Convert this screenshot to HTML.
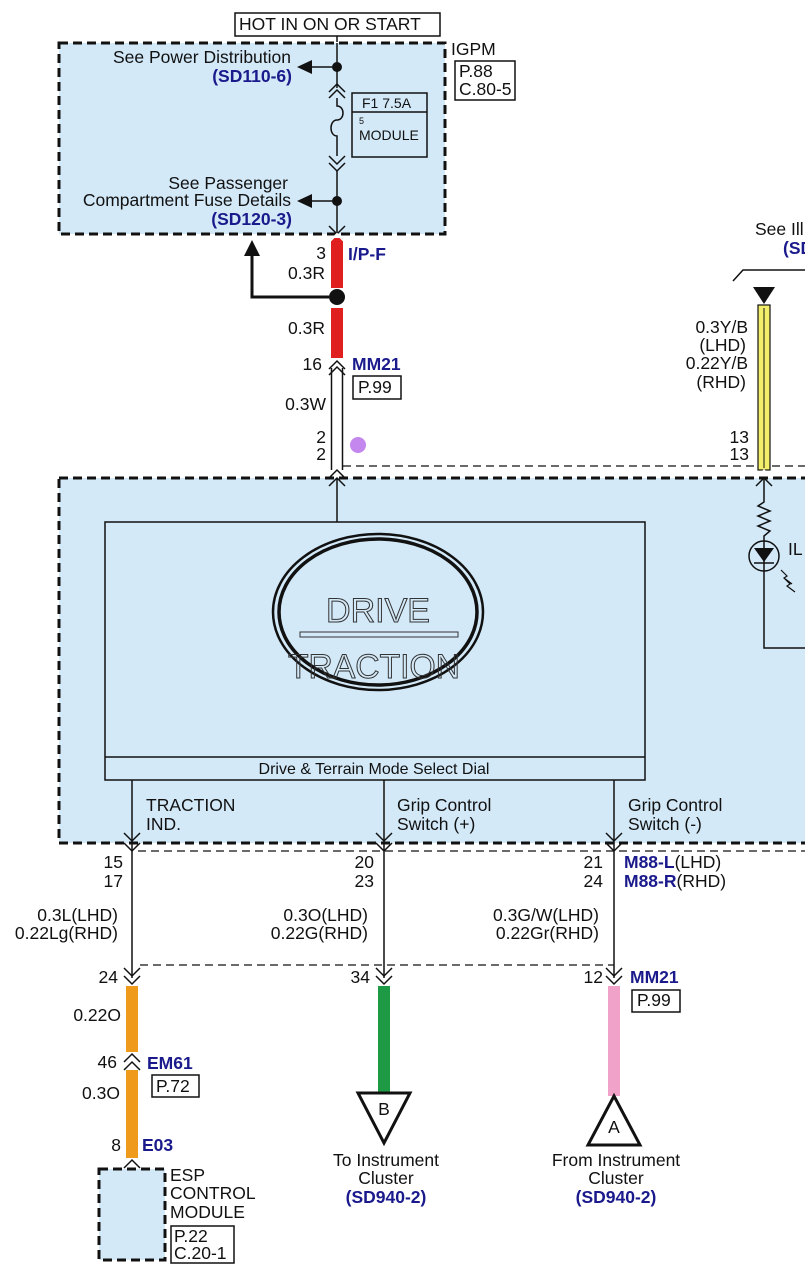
<!DOCTYPE html>
<html><head><meta charset="utf-8"><style>
html,body{margin:0;padding:0;background:#fff;}
svg{display:block;}
text{font-family:"Liberation Sans",sans-serif;font-size:17.5px;fill:#111;}
.b{fill:#1a1a8c;font-weight:bold;}
.r{text-anchor:end;}
.m{text-anchor:middle;}
</style></head><body>
<svg width="805" height="1280" viewBox="0 0 805 1280" xmlns="http://www.w3.org/2000/svg">
<rect x="235" y="13" width="205" height="23" fill="#fff" stroke="#111" stroke-width="1.5"/>
<text x="239" y="30">HOT IN ON OR START</text>
<line x1="337" y1="36" x2="337" y2="42" stroke="#111" stroke-width="1.5"/>
<rect x="59" y="43" width="386" height="191" fill="#d3e9f8" stroke="#111" stroke-width="3" stroke-dasharray="9,5"/>
<text x="451" y="55">IGPM</text>
<rect x="455" y="61" width="60" height="39" fill="#fff" stroke="#111" stroke-width="1.5"/>
<text x="459" y="77">P.88</text><text x="459" y="95">C.80-5</text>
<line x1="337" y1="43" x2="337" y2="88" stroke="#111" stroke-width="1.5"/>
<circle cx="337" cy="67" r="5" fill="#111"/>
<line x1="337" y1="67" x2="310" y2="67" stroke="#111" stroke-width="1.5"/>
<polygon points="297,67 312,60 312,74" fill="#111"/>
<text class="r" x="291" y="63">See Power Distribution</text>
<text class="r b" x="292" y="82">(SD110-6)</text>
<polyline points="329,92 337,84 345,92" fill="none" stroke="#111" stroke-width="1.5"/>
<polyline points="329,98 337,90 345,98" fill="none" stroke="#111" stroke-width="1.5"/>
<path d="M337,98 v8 c8,0 8,14 0,14 c-8,0 -8,16 0,16 v20" fill="none" stroke="#111" stroke-width="1.5"/>
<polyline points="329,156 337,164 345,156" fill="none" stroke="#111" stroke-width="1.5"/>
<polyline points="329,163 337,171 345,163" fill="none" stroke="#111" stroke-width="1.5"/>
<line x1="337" y1="171" x2="337" y2="234" stroke="#111" stroke-width="1.5"/>
<rect x="352" y="93" width="75" height="64" fill="#d3e9f8" stroke="#111" stroke-width="1.5"/>
<line x1="352" y1="112" x2="427" y2="112" stroke="#111" stroke-width="1.5"/>
<text x="362" y="108" style="font-size:14px">F1 7.5A</text>
<text x="359" y="124" style="font-size:9px">5</text>
<text x="359" y="140" style="font-size:14px">MODULE</text>
<circle cx="337" cy="201" r="5" fill="#111"/>
<line x1="337" y1="201" x2="310" y2="201" stroke="#111" stroke-width="1.5"/>
<polygon points="297,201 312,194 312,208" fill="#111"/>
<text class="r" x="288" y="189">See Passenger</text>
<text class="r" x="291" y="206">Compartment Fuse Details</text>
<text class="r b" x="292" y="225">(SD120-3)</text>
<polyline points="329,226 337,234 345,226" fill="none" stroke="#111" stroke-width="1.5"/>
<rect x="331" y="238" width="12" height="50" fill="#e01f1f"/>
<rect x="331" y="308" width="12" height="50" fill="#e01f1f"/>
<polyline points="329,242 337,234 345,242" fill="none" stroke="#fff" stroke-width="2"/>
<circle cx="337" cy="297" r="8" fill="#111"/>
<polyline points="329,297 252,297 252,255" fill="none" stroke="#111" stroke-width="3"/>
<polygon points="252,240 244,256 260,256" fill="#111"/>
<text class="r" x="326" y="259">3</text>
<text class="b" x="348" y="260">I/P-F</text>
<text class="r" x="325" y="279">0.3R</text>
<text class="r" x="325" y="334">0.3R</text>
<text class="r" x="322" y="370">16</text>
<text class="b" x="352" y="370">MM21</text>
<rect x="353" y="376" width="48" height="23" fill="#fff" stroke="#111" stroke-width="1.5"/>
<text x="358" y="393">P.99</text>
<line x1="331.5" y1="368" x2="331.5" y2="470" stroke="#111" stroke-width="1.5"/>
<line x1="342.5" y1="368" x2="342.5" y2="470" stroke="#111" stroke-width="1.5"/>
<polyline points="329,369 337,361 345,369" fill="none" stroke="#111" stroke-width="1.5"/>
<polyline points="329,375 337,367 345,375" fill="none" stroke="#111" stroke-width="1.5"/>
<text class="r" x="326" y="410">0.3W</text>
<text class="r" x="326" y="443">2</text><text class="r" x="326" y="460">2</text>
<circle cx="358" cy="445" r="8" fill="#c387ee"/>
<line x1="343" y1="466" x2="805" y2="466" stroke="#111" stroke-width="1.2" stroke-dasharray="8,5"/>
<rect x="59" y="478" width="760" height="365" fill="#d3e9f8" stroke="#111" stroke-width="3" stroke-dasharray="9,5"/>
<polyline points="329,486 337,478 345,486" fill="none" stroke="#111" stroke-width="1.5"/>
<polyline points="329,478 337,470 345,478" fill="none" stroke="#111" stroke-width="1.5"/>
<line x1="337" y1="478" x2="337" y2="522" stroke="#111" stroke-width="1.5"/>
<rect x="105" y="522" width="540" height="258" fill="#d3e9f8" stroke="#111" stroke-width="1.5"/>
<line x1="105" y1="757" x2="645" y2="757" stroke="#111" stroke-width="1.5"/>
<text class="m" x="374" y="774" style="font-size:16px">Drive &amp; Terrain Mode Select Dial</text>
<ellipse cx="378" cy="612" rx="105" ry="78" fill="none" stroke="#111" stroke-width="2.5"/>
<ellipse cx="378" cy="612" rx="99" ry="73" fill="none" stroke="#111" stroke-width="3.5"/>
<text x="326" y="622" textLength="104" lengthAdjust="spacingAndGlyphs" style="font-size:34px;fill:none;stroke:#333;stroke-width:1">DRIVE</text>
<rect x="300" y="632" width="158" height="5" fill="none" stroke="#333" stroke-width="1"/>
<text x="288" y="678" textLength="172" lengthAdjust="spacingAndGlyphs" style="font-size:34px;fill:none;stroke:#333;stroke-width:1">TRACTION</text>
<polyline points="733,281 743,270 805,270" fill="none" stroke="#111" stroke-width="1.5"/>
<text x="755" y="235">See Ill</text>
<text class="b" x="783" y="254">(SD</text>
<polygon points="753,287 775,287 764,304" fill="#111"/>
<rect x="758" y="305" width="12" height="165" fill="#f4ef6a" stroke="#111" stroke-width="1.2"/>
<line x1="764" y1="308" x2="764" y2="468" stroke="#111" stroke-width="1"/>
<text class="r" x="748" y="333">0.3Y/B</text>
<text class="r" x="746" y="351">(LHD)</text>
<text class="r" x="748" y="369">0.22Y/B</text>
<text class="r" x="746" y="388">(RHD)</text>
<text class="r" x="749" y="443">13</text><text class="r" x="749" y="460">13</text>
<polyline points="756,486 764,478 772,486" fill="none" stroke="#111" stroke-width="1.5"/>
<polyline points="756,478 764,470 772,478" fill="none" stroke="#fff" stroke-width="1.5"/>
<polyline points="764,478 764,502 758,506 770,511 758,516 770,521 758,526 770,531 764,536 764,648 805,648" fill="none" stroke="#111" stroke-width="1.5"/>
<circle cx="764" cy="556" r="15" fill="none" stroke="#111" stroke-width="1.5"/>
<polygon points="754,548 774,548 764,562" fill="#111"/>
<line x1="754" y1="563" x2="774" y2="563" stroke="#111" stroke-width="1.5"/>
<text x="788" y="555">IL</text>
<path d="M781,570 l6,6 l-3,2 l8,6 M784,578 l6,6 l-3,2 l8,6" fill="none" stroke="#111" stroke-width="1.2"/>
<g stroke="#111" stroke-width="1.5" fill="none">
<line x1="132" y1="780" x2="132" y2="843"/><polyline points="124,833 132,841 140,833"/>
<line x1="384" y1="780" x2="384" y2="843"/><polyline points="376,833 384,841 392,833"/>
<line x1="614" y1="780" x2="614" y2="843"/><polyline points="606,833 614,841 622,833"/>
<line x1="132" y1="843" x2="132" y2="978"/><polyline points="124,843 132,851 140,843"/><polyline points="124,968 132,976 140,968"/><polyline points="124,976 132,984 140,976"/>
<line x1="384" y1="843" x2="384" y2="978"/><polyline points="376,843 384,851 392,843"/><polyline points="376,968 384,976 392,968"/><polyline points="376,976 384,984 392,976"/>
<line x1="614" y1="843" x2="614" y2="978"/><polyline points="606,843 614,851 622,843"/><polyline points="606,968 614,976 622,968"/><polyline points="606,976 614,984 622,976"/>
</g>
<line x1="138" y1="851" x2="805" y2="851" stroke="#111" stroke-width="1.2" stroke-dasharray="8,5"/>
<line x1="140" y1="965" x2="614" y2="965" stroke="#111" stroke-width="1.2" stroke-dasharray="8,5"/>
<text x="146" y="811">TRACTION</text><text x="146" y="830">IND.</text>
<text x="397" y="811">Grip Control</text><text x="397" y="830">Switch (+)</text>
<text x="628" y="811">Grip Control</text><text x="628" y="830">Switch (-)</text>
<text class="r" x="123" y="868">15</text><text class="r" x="123" y="887">17</text>
<text class="r" x="374" y="868">20</text><text class="r" x="374" y="887">23</text>
<text class="r" x="603" y="868">21</text><text class="r" x="603" y="887">24</text>
<text x="624" y="868"><tspan class="b">M88-L</tspan>(LHD)</text>
<text x="624" y="887"><tspan class="b">M88-R</tspan>(RHD)</text>
<text class="r" x="118" y="921">0.3L(LHD)</text><text class="r" x="118" y="939">0.22Lg(RHD)</text>
<text class="r" x="368" y="921">0.3O(LHD)</text><text class="r" x="368" y="939">0.22G(RHD)</text>
<text class="r" x="599" y="921">0.3G/W(LHD)</text><text class="r" x="599" y="939">0.22Gr(RHD)</text>
<text class="r" x="118" y="983">24</text><text class="r" x="370" y="983">34</text><text class="r" x="603" y="983">12</text>
<text class="b" x="630" y="983">MM21</text>
<rect x="632" y="990" width="48" height="22" fill="#fff" stroke="#111" stroke-width="1.5"/>
<text x="637" y="1006">P.99</text>
<rect x="126" y="986" width="12" height="66" fill="#f09a1c"/>
<rect x="126" y="1070" width="12" height="88" fill="#f09a1c"/>
<polyline points="124,1062 132,1054 140,1062" fill="none" stroke="#111" stroke-width="1.5"/>
<polyline points="124,1070 132,1062 140,1070" fill="none" stroke="#111" stroke-width="1.5"/>
<polyline points="124,1168 132,1160 140,1168" fill="none" stroke="#111" stroke-width="1.5"/>
<text class="r" x="121" y="1021">0.22O</text>
<text class="r" x="117" y="1068">46</text>
<text class="b" x="147" y="1069">EM61</text>
<rect x="152" y="1075" width="47" height="22" fill="#fff" stroke="#111" stroke-width="1.5"/>
<text x="156" y="1092">P.72</text>
<text class="r" x="120" y="1099">0.3O</text>
<text class="r" x="121" y="1151">8</text>
<text class="b" x="142" y="1151">E03</text>
<rect x="99" y="1169" width="66" height="91" fill="#d3e9f8" stroke="#111" stroke-width="3" stroke-dasharray="9,5"/>
<text x="170" y="1181">ESP</text><text x="170" y="1199">CONTROL</text><text x="170" y="1218">MODULE</text>
<rect x="171" y="1226" width="63" height="37" fill="#fff" stroke="#111" stroke-width="1.5"/>
<text x="174" y="1242">P.22</text><text x="174" y="1259">C.20-1</text>
<rect x="378" y="986" width="12" height="106" fill="#1e9a44"/>
<polygon points="358,1093 410,1093 384,1143" fill="#fff" stroke="#111" stroke-width="3"/>
<text class="m" x="384" y="1115">B</text>
<text class="m" x="386" y="1166">To Instrument</text>
<text class="m" x="386" y="1184">Cluster</text>
<text class="m b" x="386" y="1203">(SD940-2)</text>
<rect x="608" y="986" width="12" height="110" fill="#f0a2c8"/>
<polygon points="614,1096 640,1145 588,1145" fill="#fff" stroke="#111" stroke-width="3"/>
<text class="m" x="614" y="1133">A</text>
<text class="m" x="616" y="1166">From Instrument</text>
<text class="m" x="616" y="1184">Cluster</text>
<text class="m b" x="616" y="1203">(SD940-2)</text>
</svg>
</body></html>
